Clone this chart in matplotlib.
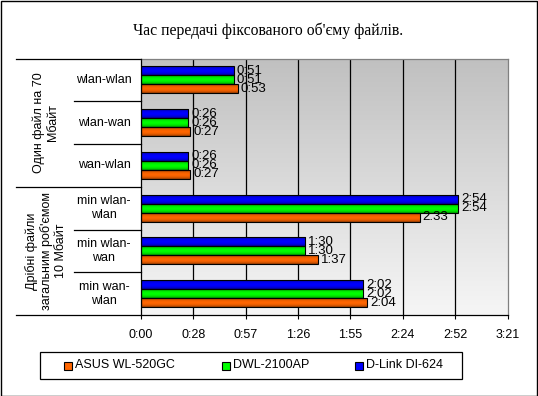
import numpy as np
import matplotlib
matplotlib.use("Agg")
import matplotlib.pyplot as plt
from matplotlib.patches import Rectangle
from matplotlib.lines import Line2D
import matplotlib.transforms as mtransforms
from matplotlib.colors import to_rgb

# ---- data ----
title = "Час передачі фіксованого об'єму файлів."
categories = ['wlan-wlan', 'wlan-wan', 'wan-wlan',
              'min wlan-\nwlan', 'min wlan-\nwan', 'min wan-\nwlan']
groups = ['Один файл на 70\nМбайт', "Дрібні файли\nзагальним роб'ємом\n10 Мбайт"]
group_sizes = [3, 3]
routers = ['ASUS WL-520GC', 'DWL-2100AP', 'D-Link DI-624']
colors = ['#FF6600', '#00FF00', '#0000FF']
# values in seconds
asus = [53, 27, 27, 153, 97, 124]
dwl = [51, 26, 26, 174, 90, 122]
dlink = [51, 26, 26, 174, 90, 122]
series = [asus, dwl, dlink]
x_max = 201
tick_labels = ['0:00', '0:28', '0:57', '1:26', '1:55', '2:24', '2:52', '3:21']

W, H = 538, 396
fig = plt.figure(figsize=(W / 100, H / 100), dpi=100)
fig.patch.set_facecolor('white')

def fx(px):
    return px / W

def fy(py):
    return 1 - py / H

ax_l, ax_r, ax_t, ax_b = 141, 507.5, 58.5, 315
ax = fig.add_axes([fx(ax_l), fy(ax_b), fx(ax_r) - fx(ax_l), fy(ax_t) - fy(ax_b)])

n = len(categories)
ypos = np.arange(n)[::-1].astype(float)
bar_h = 0.21
offsets = [-bar_h, 0.0, bar_h]

# background gradient
grad = np.linspace(0, 1, 256)[:, None]
top_c = np.array(to_rgb('#C0C0C0'))
bot_c = np.array(to_rgb('#F6F6F6'))
bg = top_c[None, None, :] * (1 - grad[:, :, None]) + bot_c[None, None, :] * grad[:, :, None]
ax.imshow(bg, extent=[0, x_max, -0.5, n - 0.5], aspect='auto', zorder=0, origin='upper')

ticks = np.arange(len(tick_labels)) * x_max / (len(tick_labels) - 1)
ax.vlines(ticks[1:-1], -0.5, n - 0.5, colors='black', linewidth=0.9, zorder=1)

prof = np.linspace(0, 1, 32)
shade = 0.55 + 0.45 * np.sin(np.pi * prof) ** 0.6
for vals, col, off, lab in zip(series, colors, offsets, routers):
    bars = ax.barh(ypos + off, vals, height=bar_h, color=col, edgecolor='none', zorder=2, label=lab)
    base = np.array(to_rgb(col))
    img = base[None, None, :] * shade[:, None, None]
    for r in bars:
        im = ax.imshow(img, extent=[r.get_x(), r.get_x() + r.get_width(),
                                    r.get_y(), r.get_y() + r.get_height()],
                       aspect='auto', zorder=2.5, origin='upper', interpolation='bilinear')
        im.set_clip_path(r)
    ax.barh(ypos + off, vals, height=bar_h, fill=False, edgecolor='black', linewidth=0.8, zorder=3)
    for y, v in zip(ypos + off, vals):
        ax.annotate(f"{v // 60}:{v % 60:02d}", (v, y), xytext=(2, 0), textcoords='offset points',
                    ha='left', va='center', fontsize=9.5,
                    family=['Liberation Sans Narrow', 'Liberation Sans'], zorder=4)

ax.set_xlim(0, x_max)
ax.set_ylim(-0.5, n - 0.5)
ax.set_xticks(ticks)
ax.set_xticklabels(tick_labels, family='Liberation Sans', fontsize=9)
ax.set_yticks([])
ax.tick_params(axis='x', direction='out', length=3, width=0.8, pad=7, colors='black')
for s in ['top', 'right']:
    ax.spines[s].set_color('#808080')
    ax.spines[s].set_linewidth(0.9)
for s in ['bottom', 'left']:
    ax.spines[s].set_color('black')
    ax.spines[s].set_linewidth(0.9)

# category table on the left
blend = mtransforms.blended_transform_factory(fig.transFigure, ax.transData)
bounds = np.arange(n + 1) - 0.5
group_bounds = [n - 0.5]
acc = 0
for gs in group_sizes:
    acc += gs
    group_bounds.append(n - 0.5 - acc)
for b in bounds:
    x0 = fx(16) if b in group_bounds else fx(74)
    fig.add_artist(Line2D([x0, fx(ax_l)], [b, b], transform=blend, color='black', linewidth=0.9))

for y, c in zip(ypos, categories):
    fig.text(fx(104), y, c, transform=blend, ha='center', va='center', fontsize=9,
             family='Liberation Sans', linespacing=1.25)

for g, (top, bot) in zip(groups, zip(group_bounds[:-1], group_bounds[1:])):
    fig.text(fx(46), (top + bot) / 2, g, transform=blend, ha='center', va='center', fontsize=9,
             family='Liberation Sans', rotation=90, multialignment='center', linespacing=1.2)

# title
fig.text(fx(268), fy(31), title, ha='center', va='center', fontsize=11.3, family='Liberation Serif')

# legend (manual)
fig.add_artist(Rectangle((fx(40), fy(379)), fx(462) - fx(40), fy(352) - fy(379),
                         transform=fig.transFigure, facecolor='white', edgecolor='black', linewidth=0.9))
mark_x = [64, 222, 355]
for mx, col, lab in zip(mark_x, colors, routers):
    fig.add_artist(Rectangle((fx(mx), fy(369.5)), fx(8), fy(361.5) - fy(369.5),
                             transform=fig.transFigure, facecolor=col, edgecolor='black', linewidth=0.8))
    fig.text(fx(mx + 11), fy(365.5), lab, ha='left', va='center', fontsize=9, family='Liberation Sans')

# outer frame
fig.add_artist(Rectangle((0.5 / W, 0.5 / H), 1 - 1.5 / W, 1 - 1.5 / H, transform=fig.transFigure,
                         fill=False, edgecolor='black', linewidth=1))

fig.savefig('out.png', dpi=100)
